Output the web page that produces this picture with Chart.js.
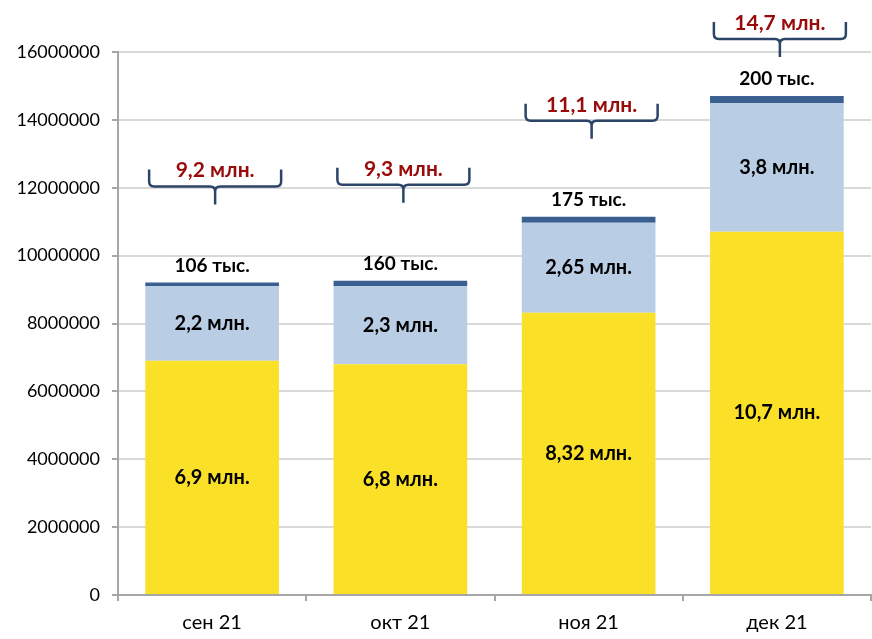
<!DOCTYPE html>
<html>
<head>
<meta charset="utf-8">
<script src="https://cdn.jsdelivr.net/npm/chart.js@4"></script>
<style>
  body { margin: 0; background: #fff; }
  #wrap { width: 872px; height: 639px; }
</style>
</head>
<body>
<div id="wrap"><canvas id="c"></canvas></div>
<script>
const months = ['сен 21', 'окт 21', 'ноя 21', 'дек 21'];
const yellowVals = [6900000, 6800000, 8320000, 10700000];
const lightVals = [2200000, 2300000, 2650000, 3800000];
const darkVals = [106000, 160000, 175000, 200000];
const yellowLabels = ['6,9 млн.', '6,8 млн.', '8,32 млн.', '10,7 млн.'];
const lightLabels = ['2,2 млн.', '2,3 млн.', '2,65 млн.', '3,8 млн.'];
const darkLabels = ['106 тыс.', '160 тыс.', '175 тыс.', '200 тыс.'];
const totalLabels = ['9,2 млн.', '9,3 млн.', '11,1 млн.', '14,7 млн.'];

const FONT = 'Lato, "Open Sans", sans-serif';

// labels inside / above the bars and the braces with totals
const barLabels = {
    id: 'barLabels',
    afterDatasetsDraw(chart) {
        const ctx = chart.ctx;
        const inner = [yellowLabels, lightLabels];
        ctx.save();
        ctx.textAlign = 'center';
        ctx.textBaseline = 'middle';
        ctx.font = 'bold 20px ' + FONT;
        ctx.fillStyle = '#000';
        inner.forEach((labels, d) => {
            chart.getDatasetMeta(d).data.forEach((bar, i) => {
                ctx.fillText(labels[i], bar.x, (bar.y + bar.base) / 2);
            });
        });
        const top = chart.getDatasetMeta(2).data;
        top.forEach((bar, i) => {
            ctx.fillStyle = '#000';
            ctx.font = 'bold 19px ' + FONT;
            ctx.fillText(darkLabels[i], bar.x, bar.y - 17);

            // brace
            const tip = Math.max(bar.y - 78, chart.chartArea.top + 5);
            const h = tip - 18;
            const t = h - 17;
            const c = bar.x + 3;
            const L = c - 66, R = c + 66, r = 5;
            ctx.strokeStyle = '#2B4468';
            ctx.lineWidth = 2.5;
            ctx.beginPath();
            ctx.moveTo(L, t);
            ctx.lineTo(L, h - r);
            ctx.quadraticCurveTo(L, h, L + r, h);
            ctx.lineTo(c - r, h);
            ctx.quadraticCurveTo(c, h, c, h + r);
            ctx.lineTo(c, tip);
            ctx.moveTo(R, t);
            ctx.lineTo(R, h - r);
            ctx.quadraticCurveTo(R, h, R - r, h);
            ctx.lineTo(c + r, h);
            ctx.quadraticCurveTo(c, h, c, h + r);
            ctx.stroke();

            ctx.fillStyle = '#990A0A';
            ctx.font = 'bold 21px ' + FONT;
            ctx.fillText(totalLabels[i], c, t + 1);
        });
        ctx.restore();
    }
};

new Chart(document.getElementById('c'), {
    type: 'bar',
    data: {
        labels: months,
        datasets: [
            { data: yellowVals, backgroundColor: '#FAE127' },
            { data: lightVals, backgroundColor: '#B9CDE5' },
            { data: darkVals, backgroundColor: '#3A5F91' }
        ]
    },
    options: {
        responsive: true,
        maintainAspectRatio: false,
        animation: false,
        datasets: { bar: { barPercentage: 0.71, categoryPercentage: 1 } },
        layout: { padding: { top: 52, right: 1, left: 0, bottom: 0 } },
        plugins: { legend: { display: false }, tooltip: { enabled: false } },
        scales: {
            x: {
                stacked: true,
                offset: true,
                afterFit(s) { s.height = 44; },
                grid: { display: true, offset: true, drawOnChartArea: false, tickLength: 6, color: '#A6A6A6', lineWidth: 2 },
                border: { color: '#A6A6A6', width: 2 },
                ticks: { color: '#000', padding: 10, font: { family: FONT, size: 20 } }
            },
            y: {
                stacked: true,
                min: 0,
                max: 16000000,
                afterFit(s) { s.width = 118; },
                grid: { color: '#D9D9D9', lineWidth: 2, tickLength: 6, tickColor: '#A6A6A6' },
                border: { color: '#A6A6A6', width: 2 },
                ticks: {
                    stepSize: 2000000,
                    color: '#000',
                    padding: 12,
                    font: { family: FONT, size: 18 },
                    callback: v => String(v)
                }
            }
        }
    },
    plugins: [barLabels]
});
</script>
</body>
</html>
